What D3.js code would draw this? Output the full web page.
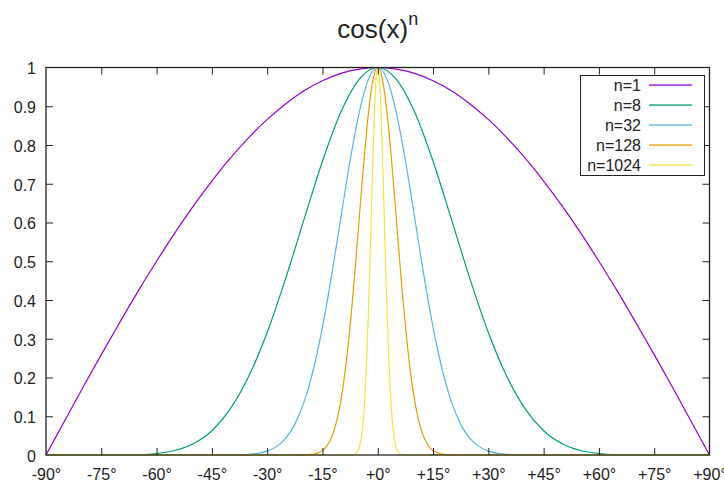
<!DOCTYPE html>
<html>
<head>
<meta charset="utf-8">
<script src="https://cdnjs.cloudflare.com/ajax/libs/d3/7.8.5/d3.min.js"></script>
<style>
  body { margin: 0; background: #fff; }
  text { font-family: "Liberation Sans", Arial, sans-serif; fill: #222; }
</style>
</head>
<body>
<script>
// legend labels and colours (gnuplot default palette)
var seriesNames = ["n=1", "n=8", "n=32", "n=128", "n=1024"];
var seriesColors = ["#9400d3", "#009e73", "#56b4e9", "#e69f00", "#f0e442"];

// tick labels
var xTicks = [-90, -75, -60, -45, -30, -15, 0, 15, 30, 45, 60, 75, 90];
var yTicks = [0, 0.1, 0.2, 0.3, 0.4, 0.5, 0.6, 0.7, 0.8, 0.9, 1];

// half profiles (x in degrees from 0 outwards, y value); mirrored for negative x
var n1x = [0, 5, 10, 15, 20, 25, 30, 35, 40, 45, 50, 55, 60, 65, 70, 75, 80, 85, 90];
var n1y = [1, 0.996, 0.985, 0.966, 0.940, 0.906, 0.866, 0.819, 0.766, 0.707, 0.643, 0.574, 0.5, 0.423, 0.342, 0.259, 0.174, 0.087, 0];

var n8x = [0, 5, 10, 15, 20, 25, 30, 35, 40, 45, 50, 55, 60, 65, 70, 75, 80, 90];
var n8y = [1, 0.970, 0.885, 0.758, 0.608, 0.455, 0.316, 0.203, 0.119, 0.0625, 0.029, 0.0117, 0.0039, 0.001, 0.0002, 0, 0, 0];

var n32x = [0, 2.5, 5, 7.5, 10, 12.5, 15, 17.5, 20, 22.5, 25, 27.5, 30, 32.5, 35, 40, 45, 90];
var n32y = [1, 0.970, 0.885, 0.760, 0.613, 0.464, 0.330, 0.220, 0.137, 0.079, 0.043, 0.0216, 0.010, 0.0043, 0.0017, 0.0002, 0, 0];

var n128x = [0, 1, 2, 3, 4, 5, 6, 7, 8, 9, 10, 11, 12, 13, 14, 15, 16, 17, 18, 20, 22, 90];
var n128y = [1, 0.981, 0.925, 0.839, 0.732, 0.614, 0.495, 0.384, 0.286, 0.205, 0.141, 0.093, 0.059, 0.036, 0.021, 0.0118, 0.0064, 0.0033, 0.0016, 0.0003, 0, 0];

var n1024x = [0, 0.5, 1, 1.5, 2, 2.5, 3, 3.5, 4, 4.5, 5, 5.5, 6, 6.5, 7, 8, 90];
var n1024y = [1, 0.962, 0.856, 0.704, 0.536, 0.377, 0.246, 0.148, 0.082, 0.042, 0.020, 0.0089, 0.0036, 0.0014, 0.0005, 0, 0];

var halfX = [n1x, n8x, n32x, n128x, n1024x];
var halfY = [n1y, n8y, n32y, n128y, n1024y];

var W = 724, H = 484;
var plotL = 46, plotR = 709.5, plotT = 67.5, plotB = 455;

var svg = d3.select("body").append("svg")
    .attr("width", W)
    .attr("height", H);

var x = d3.scaleLinear().domain([-90, 90]).range([plotL, plotR]);
var y = d3.scaleLinear().domain([0, 1]).range([plotB, plotT]);

// curves
var series = halfX.map(function(xs, i) {
    var pts = [];
    for (var j = xs.length - 1; j > 0; j--) pts.push([-xs[j], halfY[i][j]]);
    for (var k = 0; k < xs.length; k++) pts.push([xs[k], halfY[i][k]]);
    return { name: seriesNames[i], color: seriesColors[i], pts: pts };
});

var line = d3.line()
    .x(function(d) { return x(d[0]); })
    .y(function(d) { return y(d[1]); })
    .curve(d3.curveMonotoneX);

svg.append("g").selectAll("path")
    .data(series)
    .enter()
    .append("path")
    .attr("d", function(d) { return line(d.pts); })
    .attr("fill", "none")
    .style("stroke", function(d) { return d.color; })
    .attr("stroke-width", 1.2);

// axes: inward ticks, mirrored on top and right
var tickLen = 7;
var fmtX = function(d) { return (d < 0 ? "" : "+") + d + "\u00b0"; };

var xb = svg.append("g").attr("transform", "translate(0," + plotB + ")")
    .call(d3.axisBottom(x).tickValues(xTicks).tickSize(-tickLen).tickFormat(fmtX));
var xt = svg.append("g").attr("transform", "translate(0," + plotT + ")")
    .call(d3.axisTop(x).tickValues(xTicks).tickSize(-tickLen).tickFormat(""));
var yl = svg.append("g").attr("transform", "translate(" + plotL + ",0)")
    .call(d3.axisLeft(y).tickValues(yTicks).tickSize(-tickLen).tickPadding(10).tickFormat(d3.format("")));
var yr = svg.append("g").attr("transform", "translate(" + plotR + ",0)")
    .call(d3.axisRight(y).tickValues(yTicks).tickSize(-tickLen).tickFormat(""));

[xb, xt, yl, yr].forEach(function(g) {
    g.select(".domain").remove();
    g.selectAll(".tick line").attr("stroke", "#222").attr("stroke-width", 1);
    g.selectAll("text").style("font-size", "16px").attr("fill", "#222");
});
xb.selectAll("text").attr("y", 480 - plotB).attr("dy", 0);
yl.selectAll("text").attr("dy", "0.4em");
// drop end ticks that sit on the border
[xb, xt].forEach(function(g) { g.selectAll(".tick").filter(function(d) { return d === -90 || d === 90; }).select("line").remove(); });
[yl, yr].forEach(function(g) { g.selectAll(".tick").filter(function(d) { return d === 0 || d === 1; }).select("line").remove(); });

svg.append("rect")
    .attr("x", plotL).attr("y", plotT)
    .attr("width", plotR - plotL).attr("height", plotB - plotT)
    .attr("fill", "none").attr("stroke", "#222").attr("stroke-width", 1.3);

// title
var title = svg.append("text")
    .attr("x", (plotL + plotR) / 2)
    .attr("y", 38)
    .attr("text-anchor", "middle")
    .style("font-size", "26px");
title.append("tspan").text("cos(x)");
title.append("tspan").attr("dy", -13).style("font-size", "18px").text("n");

// legend
var lg = svg.append("g");
lg.append("rect")
    .attr("x", 580.5).attr("y", 75.5)
    .attr("width", 124).attr("height", 100)
    .attr("fill", "#fff").attr("stroke", "#222").attr("stroke-width", 1);

var items = lg.selectAll("g.item")
    .data(series)
    .enter()
    .append("g")
    .attr("class", "item")
    .attr("transform", function(d, i) { return "translate(0," + (85 + i * 20) + ")"; });
items.append("text")
    .attr("x", 641)
    .attr("dy", "0.36em")
    .attr("text-anchor", "end")
    .style("font-size", "16px")
    .text(function(d) { return d.name; });
items.append("rect")
    .attr("x", 649).attr("y", -0.6)
    .attr("width", 43).attr("height", 1.3)
    .style("fill", function(d) { return d.color; });
</script>
</body>
</html>
